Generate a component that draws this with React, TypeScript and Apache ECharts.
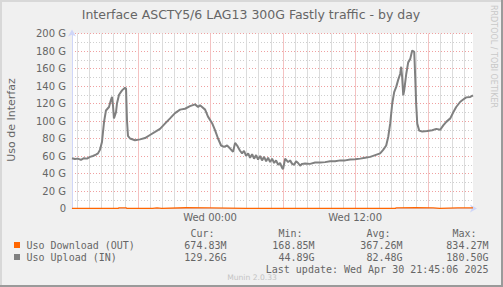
import React, { useEffect, useRef } from 'react';
import * as echarts from 'echarts';

// Hours relative to Wed 00:00
const uploadHours = [
  -11.42, -11.18, -10.93, -10.68, -10.43, -10.18, -9.93, -9.69, -9.44, -9.27,
  -9.11, -8.94, -8.77, -8.61, -8.36, -8.2, -8.11, -8.03, -7.95, -7.78,
  -7.7, -7.53, -7.28, -7.04, -6.95, -6.87, -6.79, -6.62, -6.21, -5.79,
  -5.38, -4.97, -4.55, -4.14, -3.73, -3.31, -2.9, -2.48, -2.07, -1.66,
  -1.24, -0.99, -0.83, -0.66, -0.41, -0.17, 0.17, 0.41, 0.66, 0.91,
  1.16, 1.41, 1.66, 1.9, 2.07, 2.24, 2.48, 2.65, 2.81, 2.98,
  3.15, 3.31, 3.48, 3.64, 3.81, 3.97, 4.14, 4.3, 4.47, 4.64,
  4.8, 4.97, 5.13, 5.3, 5.46, 5.63, 5.79, 5.96, 6.04, 6.21,
  6.46, 6.62, 6.79, 6.95, 7.12, 7.28, 7.45, 7.62, 7.86, 8.28,
  8.69, 9.11, 9.52, 9.93, 10.35, 10.76, 11.18, 11.59, 12.0, 12.42,
  12.83, 13.25, 13.66, 14.07, 14.32, 14.57, 14.74, 14.9, 15.07, 15.23,
  15.4, 15.56, 15.73, 15.81, 15.89, 15.98, 16.06, 16.23, 16.39, 16.56,
  16.72, 16.89, 16.97, 17.05, 17.14, 17.3, 17.55, 17.96, 18.38, 18.71,
  19.04, 19.29, 19.54, 19.87, 20.12, 20.36, 20.7, 20.94, 21.19, 21.52,
  21.75,
];
const uploadG = [
  57.5, 56.5, 57, 55.5, 57.5, 57, 59, 60, 61.5, 63,
  67, 76, 99, 112, 116, 124, 127.5, 118, 103, 110,
  120, 130, 135, 138, 137, 100, 83, 80, 78, 79,
  80.5, 84, 87.5, 91, 97, 103, 109, 113, 114, 117,
  119, 116, 118, 116, 113, 105, 97.5, 89.5, 80, 72,
  70.5, 72, 68.5, 64.7, 75, 72, 66, 63, 66, 60,
  63, 58, 62, 57, 61, 56, 60, 55, 59, 54,
  58, 53, 57, 52, 55, 50, 52, 46.5, 45, 57,
  53, 55, 51, 50, 54, 52, 49, 51, 51.5, 51,
  52.5, 52.5, 53, 54, 54, 55, 55, 56, 56.3, 57,
  58, 59, 61, 63, 67, 72, 82, 97, 120, 133,
  139, 147, 154, 162, 150, 129.5, 135, 154, 167, 171,
  180.5, 179, 150, 119, 97, 89, 88, 88.7, 89.5, 91,
  90, 95, 99, 103, 110, 116, 122, 124.5, 127, 127.5,
  129.3,
];
const downloadHours = [
  -11.42, -9.0, -7.6, -7.53, -6.95, -6.9, -4.75, -4.72, -4.39, -4.35,
  -4.0, -3.97, -2.0, -0.08, -0.05, 3.0, 8.0, 12.0, 15.35, 15.4,
  17.0, 18.46, 18.5, 19.0, 19.04, 20.5, 21.69, 21.75,
];
const downloadG = [
  0.18, 0.19, 0.18, 0.78, 0.8, 0.18, 0.17, 0.62, 0.64, 0.18,
  0.19, 0.8, 0.83, 0.79, 0.18, 0.17, 0.17, 0.18, 0.19, 0.78,
  0.83, 0.76, 0.18, 0.19, 0.77, 0.8, 0.7, 0.67,
];

const xMin = -11.42;
const xMax = 21.75;
const xTickHours = [0, 12];
const xTickLabels = ['Wed 00:00', 'Wed 12:00'];
const yMax = 200;
const yStep = 20;

const legendNames = ['Uso Download (OUT)', 'Uso Upload (IN)'];
const legendColors = ['#ff6600', '#808080'];
const statHeaders = ['Cur:', 'Min:', 'Avg:', 'Max:'];
const curValues = ['674.83M', '129.26G'];
const minValues = ['168.85M', '44.89G'];
const avgValues = ['367.26M', '82.48G'];
const maxValues = ['834.27M', '180.50G'];

const titleText = 'Interface ASCTY5/6 LAG13 300G Fastly traffic - by day';
const yTitle = 'Uso de Interfaz';
const lastUpdate = 'Last update: Wed Apr 30 21:45:06 2025';
const footerText = 'Munin 2.0.33';
const watermark = 'RRDTOOL / TOBI OETIKER';

const FONT = '"DejaVu Sans", sans-serif';
const MONO = '"DejaVu Sans Mono", monospace';
const TXT = '#666666';
const MAJOR = '#f0a0a0';
const MINOR = '#cfcfcf';
const MAJOR_V = '#f4c2c2';
const MINOR_V = '#dcdcdc';
const AXIS = '#cfd6f8';

export default function App() {
  const ref = useRef<HTMLDivElement>(null);

  useEffect(() => {
    if (!ref.current) return;
    const chart = echarts.init(ref.current, null, { renderer: 'svg' });

    const gridHours: number[] = [];
    for (let h = Math.ceil(xMin); h <= Math.floor(xMax); h++) gridHours.push(h);

    const statCols = [curValues, minValues, avgValues, maxValues];
    const colRight = [226.5, 314.5, 402.5, 488.5];
    const rowY = [245, 257];

    const graphic: any[] = [
      { type: 'rect', shape: { x: 0, y: 0, width: 503, height: 2 }, style: { fill: '#d8d8d8' }, silent: true },
      { type: 'rect', shape: { x: 0, y: 0, width: 2, height: 287 }, style: { fill: '#d8d8d8' }, silent: true },
      { type: 'rect', shape: { x: 501, y: 0, width: 2, height: 287 }, style: { fill: '#9a9a9a' }, silent: true },
      { type: 'rect', shape: { x: 0, y: 285, width: 503, height: 2 }, style: { fill: '#9a9a9a' }, silent: true },
      {
        type: 'text', x: 251, y: 14,
        style: { text: titleText, fill: TXT, font: `12.5px ${FONT}`, align: 'center', verticalAlign: 'middle' },
      },
      {
        type: 'text', x: 11, y: 120, rotation: Math.PI / 2,
        style: { text: yTitle, fill: TXT, font: `11px ${FONT}`, align: 'center', verticalAlign: 'middle' },
      },
      {
        type: 'text', x: 493, y: 5, rotation: -Math.PI / 2,
        style: { text: watermark, fill: '#c8c8c8', font: `8px ${FONT}`, align: 'left', verticalAlign: 'middle' },
      },
      {
        type: 'text', x: 252, y: 277,
        style: { text: footerText, fill: '#c4c4c4', font: `7.6px ${FONT}`, align: 'center', verticalAlign: 'middle' },
      },
      {
        type: 'text', x: 488.5, y: 269,
        style: { text: lastUpdate, fill: TXT, font: `10px ${MONO}`, align: 'right', verticalAlign: 'middle' },
      },
    ];
    statHeaders.forEach((hd, i) => {
      graphic.push({
        type: 'text', x: colRight[i] - 12, y: 233,
        style: { text: hd, fill: TXT, font: `10px ${MONO}`, align: 'right', verticalAlign: 'middle' },
      });
    });
    legendNames.forEach((nm, r) => {
      graphic.push({
        type: 'rect', shape: { x: 14, y: rowY[r] - 3, width: 6, height: 6 },
        style: { fill: legendColors[r] },
      });
      graphic.push({
        type: 'text', x: 26.5, y: rowY[r],
        style: { text: nm, fill: TXT, font: `10px ${MONO}`, align: 'left', verticalAlign: 'middle' },
      });
      statCols.forEach((col, c) => {
        graphic.push({
          type: 'text', x: colRight[c], y: rowY[r],
          style: { text: col[r], fill: TXT, font: `10px ${MONO}`, align: 'right', verticalAlign: 'middle' },
        });
      });
    });

    const option: any = {
      animation: false,
      backgroundColor: '#f0f0f0',
      grid: { left: 72, top: 33.5, width: 401, height: 175, show: true, backgroundColor: '#ffffff', borderWidth: 0 },
      xAxis: {
        type: 'value', min: xMin, max: xMax,
        axisLine: {
          show: true, onZero: false, lineStyle: { color: AXIS, width: 1 },
          symbol: ['none', 'arrow'], symbolSize: [6, 7], symbolOffset: [0, 4],
        },
        axisTick: { show: false },
        splitLine: { show: false },
        axisLabel: {
          customValues: xTickHours,
          formatter: (v: number) => {
            const i = xTickHours.indexOf(v);
            return i >= 0 ? xTickLabels[i] : '';
          },
          color: TXT, fontSize: 10, fontFamily: FONT, margin: 4,
        },
      },
      yAxis: {
        type: 'value', min: 0, max: yMax, interval: yStep,
        axisLine: {
          show: true, onZero: false, lineStyle: { color: AXIS, width: 1 },
          symbol: ['none', 'arrow'], symbolSize: [6, 7], symbolOffset: [0, 4],
        },
        axisTick: { show: false },
        axisLabel: {
          formatter: (v: number) => (v === 0 ? '0' : `${v} G`),
          color: TXT, fontSize: 10, fontFamily: FONT, margin: 6,
        },
        splitLine: { show: true, lineStyle: { color: MAJOR, type: [1, 2], width: 1 } },
        minorTick: { show: false, splitNumber: 2 },
        minorSplitLine: { show: true, lineStyle: { color: MINOR, type: [1, 2], width: 1 } },
      },
      series: [
        {
          type: 'custom',
          data: gridHours.map((h) => [h, 0]),
          renderItem: (params: any, api: any) => {
            const h = api.value(0);
            const top = api.coord([h, yMax]);
            const bot = api.coord([h, 0]);
            const x = Math.round(top[0]) + 0.5;
            return {
              type: 'line',
              shape: { x1: x, y1: top[1], x2: x, y2: bot[1] },
              style: { stroke: h % 6 === 0 ? MAJOR_V : MINOR_V, lineWidth: 1 },
            };
          },
        },
        {
          name: legendNames[0], type: 'line',
          data: downloadHours.map((h, i) => [h, downloadG[i]]),
          showSymbol: false, symbol: 'none',
          lineStyle: { color: legendColors[0], width: 1.3 },
        },
        {
          name: legendNames[1], type: 'line',
          data: uploadHours.map((h, i) => [h, uploadG[i]]),
          showSymbol: false, symbol: 'none',
          lineStyle: { color: legendColors[1], width: 2 },
        },
      ],
      graphic,
    };

    chart.setOption(option);
    return () => chart.dispose();
  }, []);

  return <div ref={ref} style={{ position: 'absolute', left: 0, top: 0, width: 503, height: 287 }} />;
}
